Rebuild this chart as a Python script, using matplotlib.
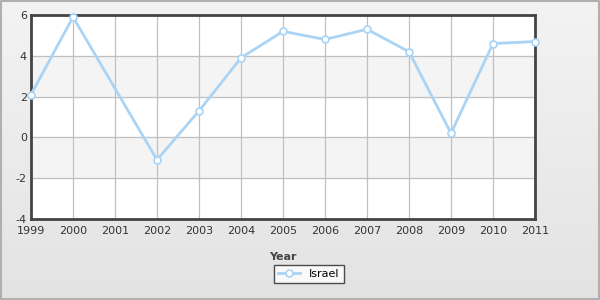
import numpy as np
import matplotlib.pyplot as plt
from matplotlib.lines import Line2D

plt.rcParams['axes.unicode_minus'] = False

years = [1999, 2000, 2002, 2003, 2004, 2005, 2006, 2007, 2008, 2009, 2010, 2011]
israel = [2.1, 5.9, -1.1, 1.3, 3.9, 5.2, 4.8, 5.3, 4.2, 0.2, 4.6, 4.7]
xticks = list(range(1999, 2012))
yticks = [-4, -2, 0, 2, 4, 6]

fig = plt.figure(figsize=(6, 3), dpi=100)

# background gradient
bg = fig.add_axes([0, 0, 1, 1], zorder=-10)
grad = np.linspace(0, 1, 256).reshape(-1, 1)
bg.imshow(grad, aspect='auto', cmap=plt.matplotlib.colors.LinearSegmentedColormap.from_list(
    'g', ['#f3f3f3', '#e3e3e3']), extent=[0, 1, 0, 1], origin='upper')
bg.plot([0.001, 0.999, 0.999, 0.001, 0.001], [0.002, 0.002, 0.998, 0.998, 0.002],
        color='#b0b0b0', lw=1.5)
bg.set_xlim(0, 1)
bg.set_ylim(0, 1)
bg.axis('off')

ax = fig.add_axes([31 / 600, 81 / 300, 504 / 600, 204 / 300])
ax.set_facecolor('white')
for i, lo in enumerate(yticks[:-1]):
    if i % 2 == 1:
        ax.axhspan(lo, lo + 2, color='#f4f4f4', zorder=0)
ax.set_xlim(1999, 2011)
ax.set_ylim(-4, 6)
ax.set_xticks(xticks)
ax.set_yticks(yticks)
ax.grid(True, color='#c0c0c0', lw=0.9, zorder=1)
ax.set_axisbelow(True)
for s in ax.spines.values():
    s.set_color('#444444')
    s.set_linewidth(2)
ax.tick_params(length=0, labelsize=8, colors='#333333')
ax.tick_params(axis='x', pad=5)
ax.tick_params(axis='y', pad=3)

ax.plot(years, israel, color='#aad4f5', lw=2, marker='o', ms=5,
        mfc='white', mec='#aad4f5', mew=1.2, zorder=3, clip_on=False)

ax.set_xlabel('Year', fontsize=8, fontweight='bold', color='#444444')
ax.xaxis.set_label_coords(252 / 504, -33 / 204)

handle = Line2D([], [], color='#aad4f5', lw=2, marker='o', ms=5, mfc='white',
                mec='#aad4f5', mew=1.2)
leg = fig.legend([handle], ['Israel'], loc='center', bbox_to_anchor=(309 / 600, 1 - 274 / 300),
                 fontsize=8, frameon=True, fancybox=False, handlelength=2, borderpad=0.35,
                 handletextpad=0.8)
leg.get_frame().set_edgecolor('#222222')
leg.get_frame().set_linewidth(1)

fig.savefig('out.png', dpi=100)
